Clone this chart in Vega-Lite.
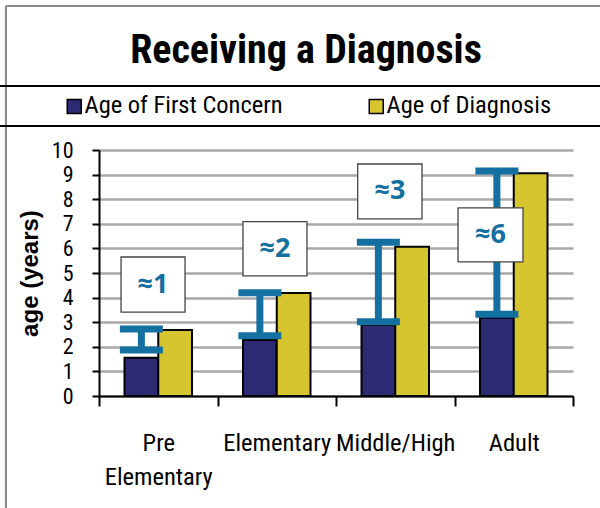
{
  "$schema": "https://vega.github.io/schema/vega-lite/v6.json",
  "width": 474,
  "height": 246,
  "autosize": "none",
  "padding": {"left": 99, "top": 150, "right": 27, "bottom": 112},
  "background": "white",
  "config": {
    "view": {"stroke": null},
    "font": "Arial Narrow, Roboto Condensed, DejaVu Sans Condensed, Liberation Sans, sans-serif",
    "legend": {"strokeWidth": 2},
    "axisY": {
      "tickCount": 10,
      "labelFont": "Arial Narrow, Roboto Condensed, DejaVu Sans Condensed, Liberation Sans, sans-serif",
      "labelFontSize": 22, "labelColor": "#000000", "labelPadding": 19,
      "tickSize": 7, "tickColor": "#000000", "tickWidth": 2,
      "domainColor": "#000000", "domainWidth": 2,
      "grid": true, "gridColor": "#a8a8a8", "gridWidth": 2.5,
      "titleFont": "Liberation Sans", "titleFontSize": 24, "titleFontWeight": "bold", "titleColor": "#000000",
      "titlePadding": 9
    }
  },
  "title": {
    "text": "Receiving a Diagnosis",
    "font": "Arial Narrow, Roboto Condensed, DejaVu Sans Condensed, Liberation Sans, sans-serif",
    "fontSize": 40,
    "fontWeight": "bold",
    "color": "#000000",
    "anchor": "middle",
    "dx": -30,
    "offset": -66
  },
  "datasets": {
    "bars": [
      {"stage": "Pre Elementary", "series": "Age of First Concern", "age": 1.55},
      {"stage": "Pre Elementary", "series": "Age of Diagnosis", "age": 2.68},
      {"stage": "Elementary", "series": "Age of First Concern", "age": 2.28},
      {"stage": "Elementary", "series": "Age of Diagnosis", "age": 4.19},
      {"stage": "Middle/High", "series": "Age of First Concern", "age": 2.89},
      {"stage": "Middle/High", "series": "Age of Diagnosis", "age": 6.07},
      {"stage": "Adult", "series": "Age of First Concern", "age": 3.18},
      {"stage": "Adult", "series": "Age of Diagnosis", "age": 9.05}
    ],
    "brackets": [
      {"stage": "Pre Elementary", "series": "Age of First Concern", "low": 1.87, "high": 2.72},
      {"stage": "Elementary", "series": "Age of First Concern", "low": 2.45, "high": 4.2},
      {"stage": "Middle/High", "series": "Age of First Concern", "low": 3.02, "high": 6.25},
      {"stage": "Adult", "series": "Age of First Concern", "low": 3.32, "high": 9.15}
    ],
    "boxes": [
      {"label": "≈1", "bx0": 0.186, "bx1": 0.726, "bxc": 0.456, "by0": 3.41, "by1": 5.65, "byc": 4.53},
      {"label": "≈2", "bx0": 1.215, "bx1": 1.755, "bxc": 1.485, "by0": 4.88, "by1": 7.09, "byc": 5.985},
      {"label": "≈3", "bx0": 2.183, "bx1": 2.726, "bxc": 2.455, "by0": 7.2, "by1": 9.43, "byc": 8.315},
      {"label": "≈6", "bx0": 3.03, "bx1": 3.578, "bxc": 3.304, "by0": 5.45, "by1": 7.65, "byc": 6.55}
    ]
  },
  "layer": [
    {
      "layer": [
        {
          "data": {"name": "bars"},
          "mark": {"type": "bar", "stroke": "#000000", "strokeWidth": 2},
          "encoding": {
            "x": {
              "field": "stage", "type": "nominal",
              "sort": ["Pre Elementary", "Elementary", "Middle/High", "Adult"],
              "scale": {"paddingInner": 0, "paddingOuter": 0},
              "axis": {
                "title": null,
                "tickBand": "extent",
                "tickSize": 10, "tickColor": "#000000", "tickWidth": 2,
                "domainColor": "#000000", "domainWidth": 2,
                "labelFont": "Arial Narrow, Roboto Condensed, DejaVu Sans Condensed, Liberation Sans, sans-serif",
                "labelFontSize": 24.5, "labelColor": "#000000",
                "labelPadding": 25, "labelLineHeight": 34, "labelAngle": 0,
                "labelExpr": "split(datum.label, ' ')"
              }
            },
            "xOffset": {"field": "series", "type": "nominal", "sort": ["Age of First Concern", "Age of Diagnosis"], "scale": {"paddingInner": 0, "paddingOuter": 0.7556}},
            "y": {
              "field": "age", "type": "quantitative",
              "scale": {"domain": [0, 10], "nice": false},
              "axis": {"title": "age (years)"}
            },
            "color": {
              "field": "series", "type": "nominal",
              "scale": {"domain": ["Age of First Concern", "Age of Diagnosis"], "range": ["#2b2a72", "#d6c52f"]},
              "legend": {
                "orient": "none", "legendX": -100, "legendY": -64,
                "direction": "horizontal",
                "title": " ", "titleOrient": "right", "titlePadding": 90, "titleFontSize": 20,
                "padding": 8,
                "strokeColor": "#000000",
                "symbolType": "square", "symbolSize": 196, "symbolOffset": 55,
                "symbolStrokeColor": "#000000", "symbolStrokeWidth": 1.5, "symbolOpacity": 1,
                "labelFont": "Arial Narrow, Roboto Condensed, DejaVu Sans Condensed, Liberation Sans, sans-serif",
                "labelFontSize": 24.5, "labelColor": "#000000",
                "labelOffset": -2, "columnPadding": 26, "gridAlign": "each", "labelLimit": 600
              }
            }
          }
        },
        {
          "data": {"name": "brackets"},
          "mark": {"type": "rule", "color": "#1470a0", "strokeWidth": 7},
          "encoding": {
            "x": {"field": "stage", "type": "nominal", "sort": ["Pre Elementary", "Elementary", "Middle/High", "Adult"]},
            "xOffset": {"field": "series", "type": "nominal", "sort": ["Age of First Concern", "Age of Diagnosis"]},
            "y": {"field": "low", "type": "quantitative", "title": "age (years)"},
            "y2": {"field": "high"}
          }
        },
        {
          "data": {"name": "brackets"},
          "mark": {"type": "tick", "orient": "horizontal", "color": "#1470a0", "size": 43, "thickness": 7, "opacity": 1},
          "encoding": {
            "x": {"field": "stage", "type": "nominal", "sort": ["Pre Elementary", "Elementary", "Middle/High", "Adult"]},
            "xOffset": {"field": "series", "type": "nominal", "sort": ["Age of First Concern", "Age of Diagnosis"]},
            "y": {"field": "low", "type": "quantitative", "title": "age (years)"}
          }
        },
        {
          "data": {"name": "brackets"},
          "mark": {"type": "tick", "orient": "horizontal", "color": "#1470a0", "size": 43, "thickness": 7, "opacity": 1},
          "encoding": {
            "x": {"field": "stage", "type": "nominal", "sort": ["Pre Elementary", "Elementary", "Middle/High", "Adult"]},
            "xOffset": {"field": "series", "type": "nominal", "sort": ["Age of First Concern", "Age of Diagnosis"]},
            "y": {"field": "high", "type": "quantitative", "title": "age (years)"}
          }
        }
      ]
    },
    {
      "data": {"name": "boxes"},
      "layer": [
        {
          "mark": {"type": "rect", "fill": "#ffffff", "stroke": "#444444", "strokeWidth": 1.3},
          "encoding": {
            "x": {"field": "bx0", "type": "quantitative", "scale": {"domain": [0, 4], "nice": false, "zero": false}, "axis": null},
            "x2": {"field": "bx1"},
            "y": {"field": "by0", "type": "quantitative", "title": "age (years)"},
            "y2": {"field": "by1"}
          }
        },
        {
          "mark": {"type": "text", "font": "Open Sans", "fontWeight": "bold", "fontSize": 27, "color": "#1470a0", "baseline": "middle", "align": "center"},
          "encoding": {
            "x": {"field": "bxc", "type": "quantitative"},
            "y": {"field": "byc", "type": "quantitative", "title": "age (years)"},
            "text": {"field": "label", "type": "nominal"}
          }
        },
        {
          "mark": {"type": "rule", "color": "#8a8a8a", "strokeWidth": 2, "clip": false},
          "encoding": {
            "x": {"datum": -0.785, "type": "quantitative"},
            "y": {"datum": 15.85, "type": "quantitative", "title": "age (years)"},
            "y2": {"datum": -6}
          }
        },
        {
          "mark": {"type": "rule", "color": "#8a8a8a", "strokeWidth": 2, "clip": false},
          "encoding": {
            "x": {"datum": -0.785, "type": "quantitative"},
            "x2": {"datum": 4.5},
            "y": {"datum": 15.85, "type": "quantitative", "title": "age (years)"}
          }
        }
      ]
    }
  ],
  "resolve": {"scale": {"x": "independent"}, "axis": {"x": "independent"}}
}
